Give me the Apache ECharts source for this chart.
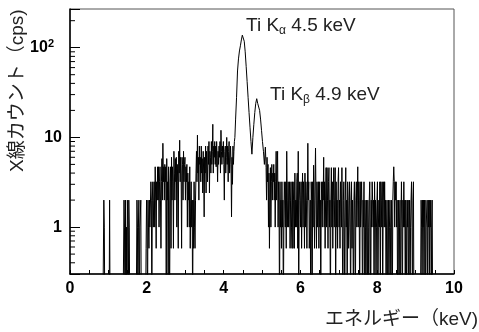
<!DOCTYPE html>
<html>
<head>
<meta charset="utf-8">
<script src="https://cdn.jsdelivr.net/npm/echarts@6/dist/echarts.min.js"></script>
<style>
html,body{margin:0;padding:0;background:#fff;}
#chart{width:479px;height:332px;}
</style>
</head>
<body>
<div id="chart"></div>
<script>
// Histogram counts in cps (0 = empty bin). Noise regions: 0.0125 keV bins; peak region: 0.025 keV bins.
const fineBin = 0.0125;
const peakBin = 0.025;
const lowStart = 0.8;   // 0.8 - 2.0 keV
const countsLow = [
  0,0,0,0,0,0,0,2,
  1,0,0,0,0,0,0,0,
  0,0,0,2,0,0,0,0,
  0,0,0,0,0,0,0,0,
  0,0,0,0,0,0,0,0,
  0,0,0,0,0,0,0,0,
  0,2,1,0,2,0,1,0,
  2,1,0,2,1,0,0,0,
  0,0,0,0,0,0,0,0,
  0,0,0,0,2,1,0,1,
  2,0,1,1,2,0,0,0,
  0,0,0,0,0,0,0,0.58
];
const midStart = 2.0;   // 2.0 - 4.3 keV
const countsMid = [
  2,1,0,2,1,0.58,2,1,
  1,3.2,2,0,2,3.2,1,2,
  3.2,1,4.7,2,0.58,3.2,2,4.7,
  2,4.7,1,3.2,4.7,2,0.58,3.2,
  5.8,2,8.6,3.2,4.7,2,5,3.2,
  4.7,0,5.8,2,3.2,0,4.7,2,
  0,3.2,4.7,0.58,6,2,4.7,3.2,
  0.58,7,4,2,5.8,3.2,6,1,
  5,3.2,0.58,7,4,9.3,3.2,6,
  4,0.58,6,5,2,7,3.2,5,
  6,2,4.7,3.2,5,1,4,2,
  3.2,1,4.7,0.58,2,3.2,1,2,
  0,2,0.58,3.2,1,0.58,2,4,
  7,3.2,10.6,4,6,2,8,5,
  6,3.2,8,4,5.8,2.4,7,4,
  1.3,6,4,8,2.4,7,5,3.2,
  8,5,9,2.4,7,6,4,9,
  5,7,14,4,8,6,9,5,
  8,4.7,9,6,3.2,7,5,8,
  6,9,4,12,7,5,8,6,
  9,5,2,7,8,4,6,10,
  5,8,3.2,7,9,4,6,8,
  5,1.3,6,3,8,5,7,9
];
const peakStart = 4.3;  // Ti K-alpha / K-beta, 4.3 - 5.1 keV
const countsPeak = [
  10,16,28,55,75,92,105,122,
  138,140,118,90,62,42,28,19,
  13,9,6.5,10,14,19,24,27,
  24,25,20,16,12,9,7,5
];
const highStart = 5.1;  // 5.1 - 9.6 keV
const countsHigh = [
  7.8,4.6,2,6,3.2,5,1,4,
  0.58,2,4.6,1,3.2,5,2,4,
  3.2,5,2,4,1,3.2,7,2,
  4,7,1,3.2,2,0,3.2,1,
  2,0.58,3.2,1,2,0,1,3.2,
  2,1,3.2,0.58,7,2,1,3.2,
  1,2,3.2,0.58,2,3.2,1,0.58,
  3.2,0.58,2,3.2,0.58,4,1,2,
  1,3.2,4,0.58,7,0,2,3.2,
  2,1,3.2,0.58,2,4,1,3.2,
  2,0.58,4,1,3.2,2,0.58,2,
  8.6,2,3.2,0.58,1,2,0,3.2,
  2,0,3.2,1,4.9,2,0.58,3.2,
  7.6,2,0.58,3.2,1,2,3.2,0.58,
  3.2,1,2,0,3.2,2,1,3.2,
  2,6,1,3.2,0.58,2,4.6,1,
  4.6,2,0.58,3.2,4.6,1,2,0,
  2,4.6,1,3.2,0.58,2,4.6,1,
  2,4.6,0,3.2,1,2,0.58,3.2,
  4.6,1,2,0.58,3.2,2,1,4.6,
  4.6,0,2,3.2,1,0,2,4.6,
  1,2,0,3.2,2,0.58,1,3.2,
  2,0,1,3.2,0.58,2,1,0,
  2,3.2,1,0,2,3.2,1,2,
  4.7,1,3.2,2,0,3.2,1,2,
  3.2,1,0,2,1,3.2,0,2,
  1,0,2,1,0,2,1,0,
  2,3.2,1,0,2,1,3.2,2,
  1,2,0,3.2,1,2,0,1,
  2,3.2,0,1,2,1,3.2,0,
  3.2,2,1,3.2,0,2,3.2,1,
  3.2,1,2,0,1,2,0,1,
  2,0,1,2,1,0,2,1,
  0,2,3.2,4.7,3.2,1,3.2,2,
  3.2,1,2,0,1,2,0,1,
  2,0,1,3.2,1,0,2,1,
  3.2,1,2,0,2,1,0,2,
  1,2,0,1,2,0,1,2,
  3.2,1,0,2,3.2,0,0,0,
  0,0,0,0,0,0,0,0,
  0,0,0,0,2,1,0,2,
  1,2,0,2,1,0,2,2,
  1,0,2,1,2,0,2,1,
  2,0,1,2,0,0,0,0,
  0,0,0,0,0,0,0,0
];
const xTickLabels = ['0','2','4','6','8','10'];
const yMinorTicks = [0.4,0.5,0.6,0.7,0.8,0.9,2,3,4,5,6,7,8,9,20,30,40,50,60,70,80,90,200];
const yAxisMin = 0.3, yAxisMax = 270;
const zeroFloor = 0.1; // empty bins drawn below the axis floor

function toPairs(start, width, arr) {
  return arr.map((v, i) => [+(start + i * width).toFixed(5), v > 0 ? v : zeroFloor]);
}
const spectrum = [].concat(
  toPairs(lowStart, fineBin, countsLow),
  toPairs(midStart, fineBin, countsMid),
  toPairs(peakStart, peakBin, countsPeak),
  toPairs(highStart, fineBin, countsHigh)
);

const FONT = '"Liberation Sans", Arial, Helvetica, sans-serif';
const JFONT = '"Liberation Sans", "Noto Sans CJK JP", sans-serif';

const chart = echarts.init(document.getElementById('chart'), null, {renderer: 'canvas'});
chart.setOption({
  animation: false,
  backgroundColor: '#fff',
  grid: {left: 70, right: 25, top: 9, bottom: 58, show: true, borderColor: '#555', borderWidth: 1, containLabel: false},
  xAxis: {
    type: 'value', min: 0, max: 10, interval: 2,
    axisLine: {show: true, onZero: false, lineStyle: {color: '#000', width: 1.5}},
    axisTick: {show: true, inside: true, length: 4, lineStyle: {color: '#000'}},
    minorTick: {show: true, splitNumber: 4, length: 4, lineStyle: {color: '#000'}},
    splitLine: {show: false},
    axisLabel: {
      margin: 7, color: '#000', fontSize: 16, fontWeight: 'bold', fontFamily: FONT,
      formatter: v => { const s = String(Math.round(v)); return xTickLabels.indexOf(s) >= 0 ? s : ''; }
    }
  },
  yAxis: {
    type: 'log', logBase: 10, min: yAxisMin, max: yAxisMax,
    axisLine: {show: true, lineStyle: {color: '#000', width: 1.5}},
    axisTick: {show: true, inside: true, length: 10, lineStyle: {color: '#000'}},
    splitLine: {show: false},
    axisLabel: {
      margin: 8, color: '#000', fontFamily: FONT,
      formatter: v => {
        const l = Math.log10(v), r = Math.round(l);
        if (Math.abs(l - r) > 1e-6) return '';
        if (r === 0) return '{b|1}';
        if (r === 1) return '{b|10}';
        if (r === 2) return '{b|10}{s|2}{p|}';
        return '';
      },
      rich: {
        b: {fontSize: 16, fontWeight: 'bold', fontFamily: FONT, color: '#000'},
        s: {fontSize: 11, fontWeight: 'bold', fontFamily: FONT, color: '#000', verticalAlign: 'top', padding: [0,0,8,0]},
        p: {width: 8}
      }
    }
  },
  series: [
    {
      type: 'line', data: spectrum, step: 'middle', showSymbol: false, symbol: 'none',
      lineStyle: {color: '#000', width: 1}, clip: true, sampling: null, silent: true
    },
    {
      type: 'custom', data: yMinorTicks.map(v => [0, v]), silent: true, clip: false,
      renderItem: (params, api) => {
        const p = api.coord([0, api.value(1)]);
        return {type: 'line', shape: {x1: p[0], y1: p[1], x2: p[0] + 5, y2: p[1]}, style: {stroke: '#000', lineWidth: 1}};
      }
    }
  ],
  graphic: [
    {type: 'text', left: 246, top: 16, style: {
      text: '{m|Ti K}{u|α}{m| 4.5 keV}',
      rich: {m: {fontSize: 19, fontFamily: FONT, fill: '#222', lineHeight: 22}, u: {fontSize: 12, fontFamily: FONT, fill: '#222', verticalAlign: 'bottom', lineHeight: 18}}
    }},
    {type: 'text', left: 270, top: 85, style: {
      text: '{m|Ti K}{u|β}{m| 4.9 keV}',
      rich: {m: {fontSize: 19, fontFamily: FONT, fill: '#222', lineHeight: 22}, u: {fontSize: 12, fontFamily: FONT, fill: '#222', verticalAlign: 'bottom', lineHeight: 18}}
    }},
    {type: 'text', right: 1, top: 310, style: {
      text: 'エネルギー（keV)', fontSize: 19, fontFamily: JFONT, fill: '#222'
    }},
    {type: 'text', x: 8, y: 172, rotation: Math.PI / 2, style: {
      text: 'X線カウント（cps)', fontSize: 19, fontFamily: JFONT, fill: '#222', verticalAlign: 'top', align: 'left'
    }}
  ]
});
</script>
</body>
</html>
